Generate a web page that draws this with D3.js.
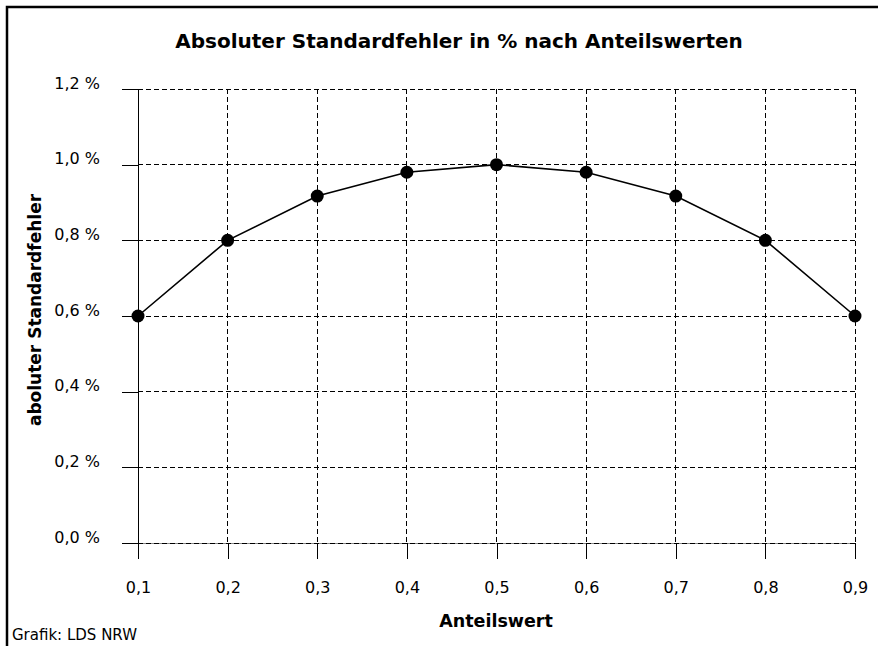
<!DOCTYPE html>
<html><head><meta charset="utf-8">
<script src="https://cdn.jsdelivr.net/npm/d3@7"></script>
<style>body{margin:0;background:#fff}svg{display:block;font-family:"DejaVu Sans",sans-serif}</style>
</head><body><svg id="c" width="878" height="646"></svg>
<script>
const anteil = [0.1,0.2,0.3,0.4,0.5,0.6,0.7,0.8,0.9];
const fehler = [0.6,0.8,0.917,0.98,1.0,0.98,0.917,0.8,0.6];
const yTicks = [0,0.2,0.4,0.6,0.8,1.0,1.2];
const xTicks = [0.1,0.2,0.3,0.4,0.5,0.6,0.7,0.8,0.9];
const title = "Absoluter Standardfehler in % nach Anteilswerten";
const xTitle = "Anteilswert";
const yTitle = "aboluter Standardfehler";
const credit = "Grafik: LDS NRW";

const FONT = "'DejaVu Sans',sans-serif";
const svg = d3.select("#c");
const x = d3.scaleLinear().domain([0.1,0.9]).range([138,855]);
const y = d3.scaleLinear().domain([0,1.2]).range([543,89]);
const fmtY = d => d3.format(".1f")(d).replace(".", ",") + " %";
const fmtX = d => d3.format(".1f")(d).replace(".", ",");

// frame
svg.append("rect").attr("x",7).attr("y",7).attr("width",900).attr("height",700)
  .attr("fill","none").attr("stroke","#000").attr("stroke-width",2.5);

// title
svg.append("text").attr("x",459).attr("y",48).attr("text-anchor","middle")
  .attr("font-weight","bold").attr("font-size",20).text(title);

// horizontal grid
svg.append("g").selectAll("line").data(yTicks.filter(d=>d>0)).join("line")
  .attr("x1",138).attr("x2",855).attr("y1",d=>y(d)).attr("y2",d=>y(d))
  .attr("stroke","#000").attr("stroke-dasharray","5,3").attr("shape-rendering","crispEdges");
// vertical grid
svg.append("g").selectAll("line").data(xTicks.filter(d=>d>0.1)).join("line")
  .attr("x1",d=>x(d)).attr("x2",d=>x(d)).attr("y1",89).attr("y2",543)
  .attr("stroke","#000").attr("stroke-dasharray","5,3").attr("shape-rendering","crispEdges");

// bottom baseline
svg.append("line").attr("x1",138).attr("x2",855).attr("y1",y(0)).attr("y2",y(0))
  .attr("stroke","#888").attr("shape-rendering","crispEdges");
svg.append("line").attr("x1",138).attr("x2",855).attr("y1",y(0)).attr("y2",y(0))
  .attr("stroke","#000").attr("stroke-dasharray","5,3").attr("shape-rendering","crispEdges");

// y axis
const yAxis = d3.axisLeft(y).tickValues(yTicks).tickSize(16).tickPadding(22).tickFormat(fmtY);
const gy = svg.append("g").attr("transform","translate(138,0)").call(yAxis);
gy.select(".domain").remove();
gy.append("line").attr("x1",0).attr("x2",0).attr("y1",89).attr("y2",559).attr("stroke","#000").attr("shape-rendering","crispEdges");
gy.selectAll(".tick line").attr("stroke","#000").attr("shape-rendering","crispEdges");
gy.selectAll(".tick text").attr("font-size",16).attr("font-family",FONT)
  .attr("fill","#000").attr("dy","-0.05em");

// x axis
const xAxis = d3.axisBottom(x).tickValues(xTicks).tickSize(16).tickPadding(23).tickFormat(fmtX);
const gx = svg.append("g").attr("transform",`translate(0,${y(0)})`).call(xAxis);
gx.select(".domain").remove();
gx.selectAll(".tick line").attr("stroke","#000").attr("shape-rendering","crispEdges");
gx.selectAll(".tick text").attr("font-size",16).attr("font-family",FONT).attr("fill","#000");

// axis titles
svg.append("text").attr("x",496).attr("y",627).attr("text-anchor","middle")
  .attr("font-weight","bold").attr("font-size",17.5).text(xTitle);
svg.append("text").attr("transform","translate(41,310) rotate(-90)").attr("text-anchor","middle")
  .attr("font-weight","bold").attr("font-size",17).text(yTitle);

// credit
svg.append("text").attr("x",12).attr("y",640).attr("font-size",15).text(credit);

// line + points
const data = anteil.map((a,i)=>({a, v:fehler[i]}));
svg.append("path").datum(data).attr("fill","none").attr("stroke","#000").attr("stroke-width",1.6)
  .attr("d", d3.line().x(d=>x(d.a)).y(d=>y(d.v)));
svg.append("g").selectAll("circle").data(data).join("circle")
  .attr("cx",d=>x(d.a)).attr("cy",d=>y(d.v)).attr("r",6.5).attr("fill","#000");
</script></body></html>
